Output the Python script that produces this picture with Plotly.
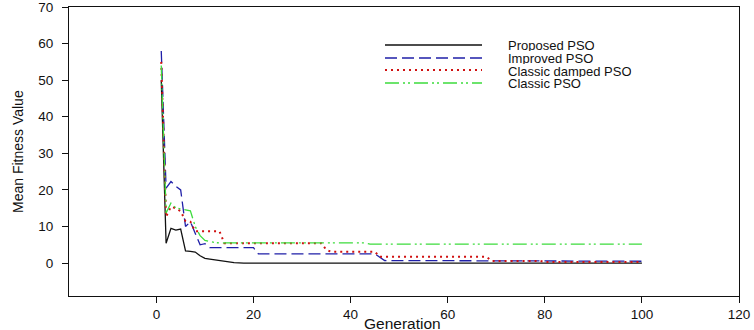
import plotly.graph_objects as go

# breakpoints (generation, mean fitness)
proposed_gen = [1, 2, 3, 4, 5, 6, 7, 8, 9, 10, 11, 12, 13, 14, 16, 18, 100]
proposed_val = [50, 5.4, 9.5, 9.0, 9.3, 3.3, 3.2, 3.0, 2.0, 1.3, 1.1, 0.9, 0.6, 0.3, 0.1, 0.0, 0.0]

improved_gen = [1, 2, 3, 4, 5, 6, 7, 8, 9, 10, 11, 20, 21, 45, 47, 100]
improved_val = [58, 20.5, 22.3, 21.0, 20.0, 10.0, 11.3, 8.0, 5.0, 5.3, 4.2, 4.2, 2.5, 2.5, 0.7, 0.5]

damped_gen = [1, 2, 3, 4, 5, 6, 7, 8, 13, 14, 34, 35, 36, 45, 46, 68, 69, 79, 80, 100]
damped_val = [55, 12.7, 15.4, 15.0, 14.2, 11.5, 11.3, 8.7, 8.7, 5.4, 5.4, 3.6, 3.1, 3.1, 1.7, 1.7, 0.6, 0.6, 0.3, 0.3]

classic_gen = [1, 2, 3, 4, 5, 6, 7, 8, 9, 10, 11, 12, 13, 43, 44, 100]
classic_val = [54, 13.7, 16.4, 15.1, 14.8, 14.6, 14.3, 10.0, 7.5, 6.2, 5.8, 5.6, 5.5, 5.5, 5.2, 5.2]

names = ["Proposed PSO", "Improved PSO", "Classic damped PSO", "Classic PSO"]
colors = ["#111111", "#1f1fa8", "#d01010", "#3ddc3d"]
dashes = ["solid", "12px,5px", "2px,4px", "14px,4px,2px,3px,2px,4px"]
widths = [1.3, 1.3, 2, 1.3]

series = [
    (proposed_gen, proposed_val),
    (improved_gen, improved_val),
    (damped_gen, damped_val),
    (classic_gen, classic_val),
]

FONT = "Liberation Sans, Arial, sans-serif"
L, R, T, B = 69, 15, 7, 34
plot_w = 754 - L - R
plot_h = 330 - T - B

fig = go.Figure()
for (gx, gy), name, col, dash, w in zip(series, names, colors, dashes, widths):
    fig.add_trace(go.Scatter(
        x=gx, y=gy, mode="lines", name=name, showlegend=False,
        line=dict(color=col, width=w, dash=dash),
    ))

# hand-made legend with long line samples, like the original
line_rows = [45, 58, 70, 83]
text_rows = [45, 58, 70.5, 82.5]
for i, (name, col, dash, w) in enumerate(zip(names, colors, dashes, widths)):
    yl = 1 - (line_rows[i] - T) / plot_h
    yt = 1 - (text_rows[i] - T) / plot_h
    fig.add_shape(type="line", xref="paper", yref="paper",
                  x0=(385 - L) / plot_w, x1=(482 - L) / plot_w, y0=yl, y1=yl,
                  line=dict(color=col, width=w, dash=dash))
    fig.add_annotation(xref="paper", yref="paper", x=(507 - L) / plot_w, y=yt, text=name,
                       showarrow=False, xanchor="left", yanchor="middle",
                       height=12, borderpad=0,
                       font=dict(family=FONT, size=13, color="#111111"))

# axis titles
fig.add_annotation(xref="paper", yref="paper", x=(402 - L) / plot_w, y=1 - (323 - T) / plot_h,
                   text="Generation", showarrow=False, xanchor="center", yanchor="middle",
                   height=14, borderpad=0,
                   font=dict(family=FONT, size=15.5, color="#111111"))
fig.add_annotation(xref="paper", yref="paper", x=(18 - L) / plot_w, y=1 - (152 - T) / plot_h,
                   text="Mean Fitness Value", textangle=-90, showarrow=False,
                   xanchor="center", yanchor="middle",
                   font=dict(family=FONT, size=14, color="#111111"))

axis_common = dict(
    showline=True, mirror=True, linecolor="#111111", linewidth=1,
    ticks="outside", ticklen=6, tickcolor="#111111",
    showgrid=False, zeroline=False, automargin=False, ticklabeloverflow="allow",
    tickfont=dict(family=FONT, size=13.5, color="#111111"),
)

fig.update_xaxes(range=[-18, 120], tick0=0, dtick=20, **axis_common)
fig.update_yaxes(range=[-9, 70], tick0=0, dtick=10, ticklabelstandoff=6, **axis_common)

fig.update_layout(
    width=754, height=330,
    margin=dict(l=L, r=R, t=T, b=B),
    plot_bgcolor="white", paper_bgcolor="white",
    font=dict(family=FONT, color="#111111"),
)

# drop the page's default body margin so the figure sits at the window corner
fig.write_html("out.html", config={"displayModeBar": False},
               post_script="document.body.style.margin='0';")
